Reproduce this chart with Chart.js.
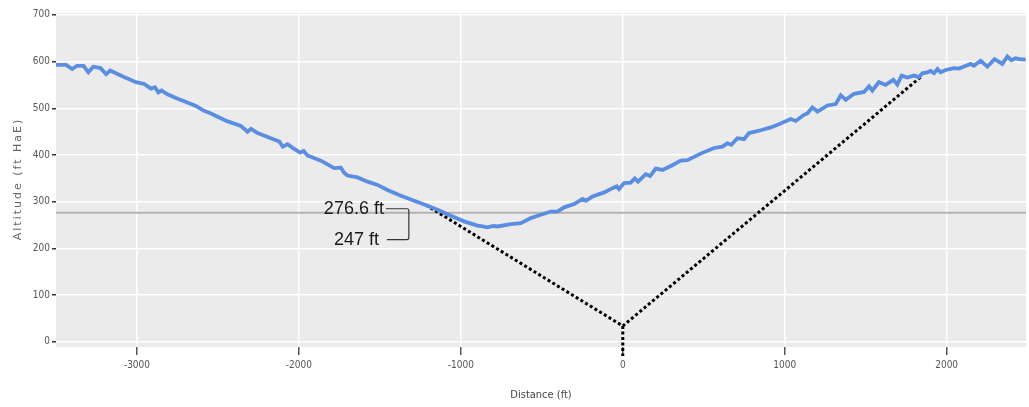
<!DOCTYPE html>
<html>
<head>
<meta charset="utf-8">
<script src="https://cdn.jsdelivr.net/npm/chart.js@4.4.0/dist/chart.umd.min.js"></script>
<style>
  html, body { margin: 0; padding: 0; background: #fff; }
  #wrap { width: 1029px; height: 407px; }
</style>
</head>
<body>
<div id="wrap"><canvas id="profileChart" width="1029" height="407"></canvas></div>
<script>
// terrain profile
const distanceFt = [
  -3500, -3438, -3400, -3370, -3330, -3300, -3270, -3225, -3190, -3165,
  -3130, -3080, -3006, -2955, -2914, -2889, -2868, -2848, -2811, -2760,
  -2708, -2636, -2589, -2550, -2502, -2440, -2358, -2317, -2296, -2255,
  -2173, -2121, -2100, -2070, -2029, -1992, -1971, -1947, -1864, -1782,
  -1741, -1721, -1700, -1638, -1576, -1514, -1453, -1370, -1288, -1226,
  -1144, -1062, -980, -897, -866, -836, -800, -774, -691, -630,
  -568, -506, -444, -403, -362, -300, -249, -228, -187, -115,
  -64, -37, -23, 8, 49, 74, 94, 142, 169, 204,
  245, 300, 358, 399, 481, 564, 615, 646, 670, 708,
  749, 780, 852, 914, 971, 1037, 1068, 1119, 1140, 1171,
  1202, 1264, 1315, 1346, 1377, 1428, 1490, 1521, 1541, 1582,
  1623, 1671, 1695, 1722, 1757, 1798, 1829, 1850, 1881, 1901,
  1922, 1943, 1963, 1994, 2045, 2076, 2148, 2168, 2210, 2251,
  2296, 2344, 2375, 2399, 2426, 2457, 2488
];
const altitudeFt = [
  593, 593, 584, 591, 591, 577, 589, 586, 573, 581,
  575, 567, 556, 552, 542, 545, 534, 538, 530, 522,
  515, 505, 495, 490, 482, 472, 462, 450, 456, 447,
  436, 429, 418, 423, 413, 405, 409, 399, 388, 372,
  373, 362, 356, 352, 343, 336, 325, 313, 302, 294,
  283, 270, 258, 249, 247, 245, 248, 247, 252, 254,
  265, 272, 279, 279, 288, 295, 306, 302, 311, 320,
  329, 333, 327, 340, 341, 350, 343, 359, 355, 371,
  368, 377, 388, 389, 403, 415, 418, 425, 422, 436,
  434, 447, 453, 459, 467, 477, 473, 486, 489, 502,
  493, 506, 509, 528, 518, 531, 535, 547, 538, 556,
  550, 561, 551, 570, 566, 570, 567, 575, 577, 580,
  575, 584, 577, 582, 586, 585, 595, 591, 602, 589,
  605, 595, 611, 603, 607, 605, 604
];

// dotted sight lines from the antenna point
const sightX = [-1216, 0, 1840];
const sightY = [293, 34, 567];
const mastX = [0, 0];
const mastY = [34, -30];

// reference level and the labels beside it
const refLevel = 276.6;
const noteLabels = ["276.6 ft", "247 ft"];
const noteY = [285, 219];
const noteTextX = -1475;
const noteBracketX = -1321;

// axis ticks
const xTicks = [-3000, -2000, -1000, 0, 1000, 2000];
const yTicks = [0, 100, 200, 300, 400, 500, 600, 700];
const yTitle = "Altitude (ft HaE)";

const xMin = -3500, xMax = 2490;
const yMin = -11, yMax = 704;

const narrowFont = "'Liberation Sans Narrow', 'DejaVu Sans Condensed', sans-serif";

const toPoints = (xs, ys) => xs.map((x, i) => ({ x: x, y: ys[i] }));

// grey panel behind the plot
const panelPlugin = {
  id: "panel",
  beforeDraw(chart) {
    const a = chart.chartArea;
    const ctx = chart.ctx;
    ctx.save();
    ctx.fillStyle = "#ebebeb";
    ctx.fillRect(a.left, a.top, a.right - a.left, a.bottom - a.top);
    ctx.restore();
  }
};

// y title is spaced out, so it is drawn by hand
const yTitlePlugin = {
  id: "yTitle",
  afterDraw(chart) {
    const a = chart.chartArea;
    const ctx = chart.ctx;
    ctx.save();
    ctx.translate(18, (a.top + a.bottom) / 2);
    ctx.rotate(-Math.PI / 2);
    ctx.font = "11px 'DejaVu Sans', sans-serif";
    ctx.letterSpacing = "2px";
    ctx.fillStyle = "#666";
    ctx.textAlign = "center";
    ctx.textBaseline = "middle";
    ctx.fillText(yTitle, 1, 0);
    ctx.restore();
  }
};

// the two altitude notes with their bracket
const notesPlugin = {
  id: "notes",
  afterDatasetsDraw(chart) {
    const ctx = chart.ctx;
    const xs = chart.scales.x, ys = chart.scales.y;
    const tx = xs.getPixelForValue(noteTextX);
    const bx = xs.getPixelForValue(noteBracketX);
    const y1 = ys.getPixelForValue(noteY[0]);
    const y2 = ys.getPixelForValue(noteY[1]);
    ctx.save();
    ctx.font = "18px 'Liberation Sans', Arial, sans-serif";
    ctx.fillStyle = "#1a1a1a";
    ctx.textAlign = "right";
    ctx.textBaseline = "middle";
    ctx.fillText(noteLabels[0], tx, y1);
    ctx.fillText(noteLabels[1], tx - 5, y2);
    ctx.strokeStyle = "#333";
    ctx.lineWidth = 1.2;
    ctx.beginPath();
    ctx.moveTo(tx + 2, y1);
    ctx.lineTo(bx - 2, y1);
    ctx.quadraticCurveTo(bx, y1, bx, y1 + 2);
    ctx.lineTo(bx, y2 - 2);
    ctx.quadraticCurveTo(bx, y2, bx - 2, y2);
    ctx.lineTo(tx + 3, y2);
    ctx.stroke();
    ctx.restore();
  }
};

new Chart(document.getElementById("profileChart"), {
  type: "line",
  data: {
    datasets: [
      {
        label: "Altitude",
        data: toPoints(distanceFt, altitudeFt),
        borderColor: "#5b8ee0",
        borderWidth: 3.8,
        pointRadius: 0,
        tension: 0,
        order: 0
      },
      {
        label: "Sight",
        data: toPoints(sightX, sightY),
        borderColor: "#000",
        borderWidth: 3,
        borderDash: [3, 2.5],
        pointRadius: 0,
        order: 1
      },
      {
        label: "Mast",
        data: toPoints(mastX, mastY),
        borderColor: "#000",
        borderWidth: 3,
        borderDash: [3, 2.5],
        pointRadius: 0,
        clip: false,
        order: 1
      },
      {
        label: "Reference",
        data: toPoints([xMin, xMax], [refLevel, refLevel]),
        borderColor: "#b3b3b3",
        borderWidth: 2,
        pointRadius: 0,
        order: 3
      }
    ]
  },
  options: {
    responsive: false,
    devicePixelRatio: 1,
    animation: false,
    layout: { padding: { top: 13, right: 3, left: 0, bottom: 0 } },
    plugins: {
      legend: { display: false },
      tooltip: { enabled: false }
    },
    scales: {
      x: {
        type: "linear",
        min: xMin,
        max: xMax,
        afterBuildTicks: s => { s.ticks = xTicks.map(v => ({ value: v })); },
        afterFit: s => { s.height = 60; },
        ticks: {
          color: "#555",
          font: { family: narrowFont, size: 10 },
          padding: 4,
          maxRotation: 0,
          autoSkip: false,
          callback: v => String(v)
        },
        grid: { color: "#ffffff", lineWidth: 1.5, tickColor: "#555", tickLength: 8 },
        border: { display: false },
        title: {
          display: true,
          text: "Distance (ft)",
          color: "#444",
          font: { family: narrowFont, size: 11 },
          padding: { top: 0, bottom: 5 }
        }
      },
      y: {
        min: yMin,
        max: yMax,
        afterBuildTicks: s => { s.ticks = yTicks.map(v => ({ value: v })); },
        afterFit: s => { s.width = 56; },
        ticks: {
          color: "#555",
          font: { family: narrowFont, size: 10 },
          padding: 2,
          autoSkip: false,
          callback: v => String(v)
        },
        grid: { color: "#ffffff", lineWidth: 1.5, tickColor: "#333", tickLength: 4 },
        border: { display: false },
        title: { display: false }
      }
    }
  },
  plugins: [panelPlugin, yTitlePlugin, notesPlugin]
});
</script>
</body>
</html>
